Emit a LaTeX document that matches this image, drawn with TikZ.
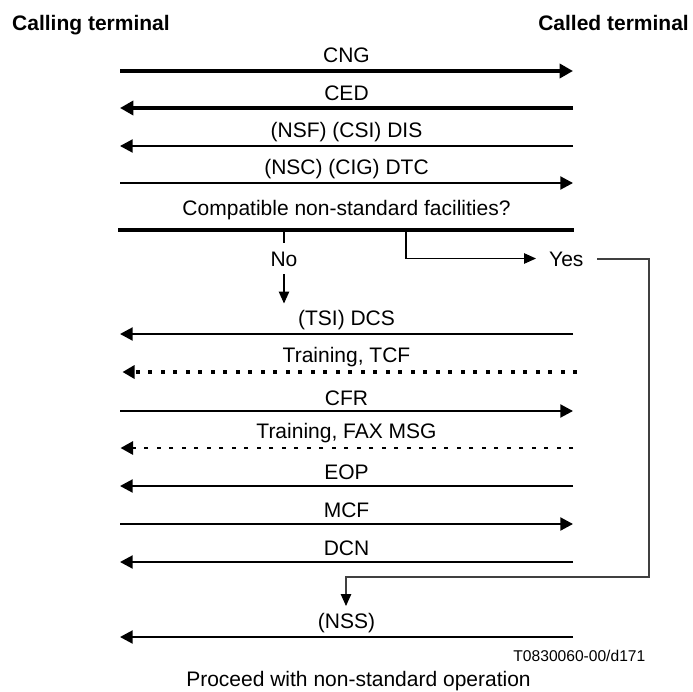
\documentclass[tikz,border=0pt]{standalone}
\usepackage{fontspec}
\setmainfont{Liberation Sans}
\usetikzlibrary{arrows.meta}
\begin{document}
\begin{tikzpicture}[x=1pt,y=-1pt,
  lbl/.style={font=\fontsize{21}{25}\selectfont, inner sep=0pt, anchor=base},
  hd/.style={font=\fontsize{21}{25}\selectfont\bfseries, inner sep=0pt},
  idl/.style={font=\fontsize{15.6}{18}\selectfont, inner sep=0pt, anchor=base east},
  msg/.style={line width=2.2pt, -{Triangle[length=12.7pt,width=13pt]}},
  thickmsg/.style={line width=4pt, -{Triangle[length=13.3pt,width=14pt]}},
  dotmsg/.style={line width=4pt, dash pattern=on 4pt off 8.5pt, -{Triangle[length=12pt,width=13pt]}},
  thindotmsg/.style={line width=2.7pt, dash pattern=on 4pt off 8.5pt, -{Triangle[length=12.5pt,width=13pt]}},
  flow/.style={line width=1.1pt},
  flowarrow/.style={line width=1.1pt, -{Triangle[length=12pt,width=10.5pt]}},
  back/.style={line width=1.1pt, draw=black!75, -{Triangle[length=12pt,width=10.5pt,black]}},
]
\useasboundingbox (0,0) rectangle (693,691);

% headings
\node[hd, anchor=base west] (calling) at (12,30.5) {Calling terminal};
\node[hd, anchor=base east] (called) at (689,30.5) {Called terminal};

% end points of the messages
\coordinate (cngL) at (120,71);  \coordinate (cngR) at (573,71);
\coordinate (cedL) at (120,108); \coordinate (cedR) at (573,108);
\coordinate (disL) at (120,146); \coordinate (disR) at (573,146);
\coordinate (dtcL) at (120,183); \coordinate (dtcR) at (573,183);
\coordinate (barL) at (118,230); \coordinate (barR) at (574,230);
\coordinate (dcsL) at (120,334); \coordinate (dcsR) at (573,334);
\coordinate (tcfL) at (122.5,372); \coordinate (tcfR) at (577,372);
\coordinate (cfrL) at (120,411); \coordinate (cfrR) at (573,411);
\coordinate (faxL) at (120.5,448); \coordinate (faxR) at (573,448);
\coordinate (eopL) at (120,486); \coordinate (eopR) at (573,486);
\coordinate (mcfL) at (120,524); \coordinate (mcfR) at (573,524);
\coordinate (dcnL) at (120,562); \coordinate (dcnR) at (573,562);
\coordinate (nssL) at (120,637); \coordinate (nssR) at (573,637);

% labels
\node[lbl] (cng) at (346.5,62.5) {CNG};
\node[lbl] (ced) at (346.5,100) {CED};
\node[lbl] (dis) at (346.5,137.5) {(NSF) (CSI) DIS};
\node[lbl] (dtc) at (346.5,174.5) {(NSC) (CIG) DTC};
\node[lbl] (comp) at (346.5,215) {Compatible non-standard facilities?};
\node[lbl] (dcs) at (346.5,325.5) {(TSI) DCS};
\node[lbl] (tcf) at (346.5,362.5) {Training, TCF};
\node[lbl] (cfr) at (346.5,405) {CFR};
\node[lbl] (fax) at (346.5,438.5) {Training, FAX MSG};
\node[lbl] (eop) at (346.5,479) {EOP};
\node[lbl] (mcf) at (346.5,517) {MCF};
\node[lbl] (dcn) at (346.5,555) {DCN};
\node[lbl] (nss) at (346.5,628.5) {(NSS)};
\node[lbl] (no) at (284,266) {No};
\node[lbl, anchor=base west] (yes) at (549,266.5) {Yes};
\node[idl] (fig) at (645.5,661) {T0830060-00/d171};
\node[lbl] (proceed) at (358.5,686) {Proceed with non-standard operation};

% messages
\draw[thickmsg] (cngL) -- (cngR);
\draw[thickmsg] (cedR) -- (cedL);
\draw[msg] (disR) -- (disL);
\draw[msg] (dtcL) -- (dtcR);
\draw[line width=4pt] (barL) -- (barR);
\draw[msg] (dcsR) -- (dcsL);
\draw[dotmsg] (tcfR) -- (tcfL);
\draw[msg] (cfrL) -- (cfrR);
\draw[thindotmsg] (faxR) -- (faxL);
\draw[msg] (eopR) -- (eopL);
\draw[msg] (mcfL) -- (mcfR);
\draw[msg] (dcnR) -- (dcnL);
\draw[msg] (nssR) -- (nssL);

% decision branches
\coordinate (noTop) at (284,230);
\coordinate (noMid) at (284,242.5);
\coordinate (noLow) at (284,274);
\coordinate (noTip) at (284,303.5);
\draw[flow] (noTop) -- (noMid);
\draw[flowarrow] (noLow) -- (noTip);

\coordinate (yesTop) at (406,230);
\coordinate (yesTip) at (536,258.5);
\draw[flowarrow] (yesTop) |- (yesTip);

\coordinate (yesOut) at (597,259);
\coordinate (backR) at (649,577);
\coordinate (backTip) at (346,606);
\draw[back] (yesOut) -| (backR) -| (backTip);
\end{tikzpicture}
\end{document}
